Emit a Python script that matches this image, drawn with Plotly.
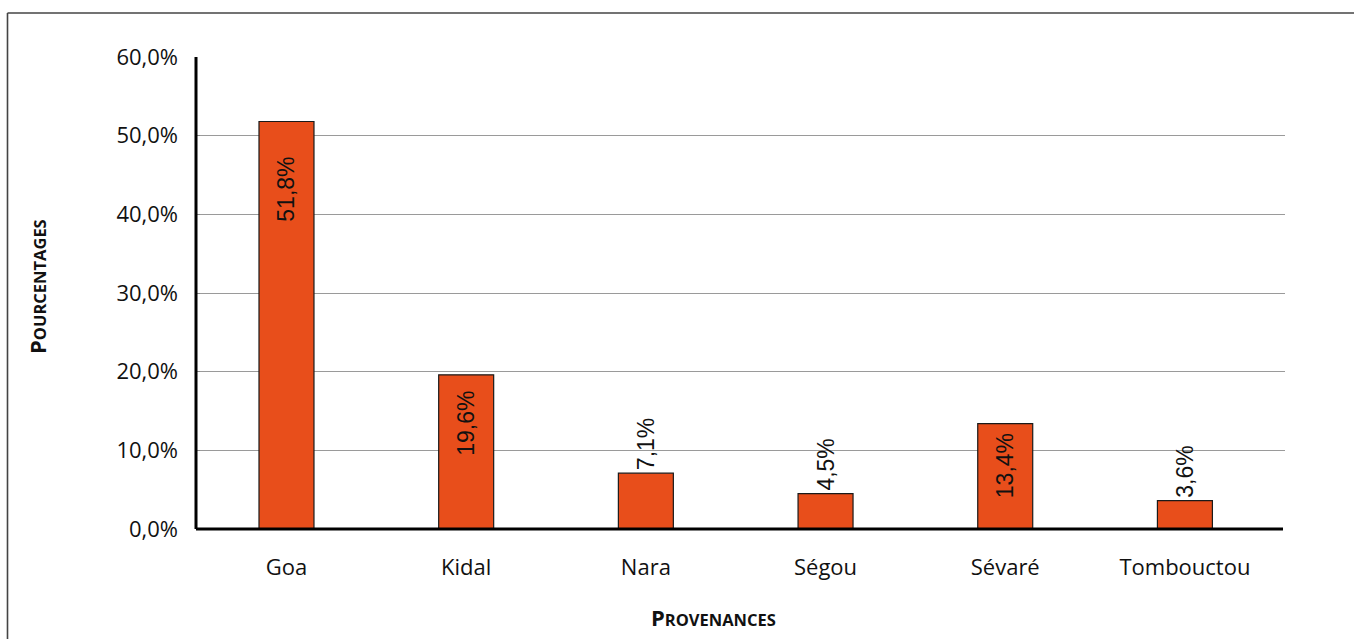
import plotly.graph_objects as go

categories = ["Goa", "Kidal", "Nara", "Ségou", "Sévaré", "Tombouctou"]
values = [51.8, 19.6, 7.1, 4.5, 13.4, 3.6]
value_labels = ["51,8%", "19,6%", "7,1%", "4,5%", "13,4%", "3,6%"]
y_ticks = [0, 10, 20, 30, 40, 50, 60]
y_tick_labels = ["0,0%", "10,0%", "20,0%", "30,0%", "40,0%", "50,0%", "60,0%"]

# label styling (placement of value labels)
text_positions = ["inside", "inside", "outside", "outside", "inside", "outside"]
inside_pad = {"Goa": 5, "Kidal": 2, "Sévaré": 1}
bar_text = [lab + "\u00a0" * inside_pad.get(c, 0) for c, lab in zip(categories, value_labels)]

W, H = 1354, 639
L, R, T, B = 196, 69, 57, 110
pw, ph = W - L - R, H - T - B

fig = go.Figure()
fig.add_trace(go.Bar(
    x=categories, y=values,
    marker=dict(color="#E84E1B", line=dict(color="#1a1a1a", width=1.2)),
    width=0.306,
    text=bar_text,
    textposition=text_positions,
    textangle=-90,
    insidetextanchor="end",
    textfont=dict(family="Liberation Sans", size=23, color="#111"),
    cliponaxis=False,
))

def px_x(px):
    return (px - L) / pw

def px_y(py):
    return (H - B - py) / ph

fig.update_layout(
    width=W, height=H,
    margin=dict(l=L, r=R, t=T, b=B),
    plot_bgcolor="white", paper_bgcolor="white",
    showlegend=False,
    font=dict(family="Open Sans", color="#111"),
    uniformtext=dict(minsize=8, mode="show"),
    xaxis=dict(
        range=[-0.5036, 5.557],
        showgrid=False, showline=False, zeroline=False,
        ticks="", ticklabelstandoff=23,
        tickfont=dict(family="Open Sans", size=22, color="#111"),
    ),
    yaxis=dict(
        range=[0, 60], tickvals=y_ticks, ticktext=y_tick_labels,
        showgrid=True, gridcolor="#9a9a9a", gridwidth=1,
        zeroline=False, showline=False,
        ticks="inside", ticklen=4, tickcolor="#888",
        ticklabelstandoff=17,
        tickfont=dict(family="Open Sans", size=22, color="#111"),
    ),
    shapes=[
        dict(type="line", xref="paper", yref="paper", x0=0, x1=0, y0=0, y1=1,
             line=dict(color="black", width=3)),
        dict(type="line", xref="paper", yref="paper", x0=0, x1=px_x(1283), y0=0, y1=0,
             line=dict(color="black", width=3)),
        dict(type="line", xref="paper", yref="paper", x0=px_x(7.5), x1=px_x(1400),
             y0=px_y(13), y1=px_y(13), line=dict(color="#444", width=1.6)),
        dict(type="line", xref="paper", yref="paper", x0=px_x(7.5), x1=px_x(7.5),
             y0=px_y(13), y1=px_y(700), line=dict(color="#444", width=1.6)),
    ],
    annotations=[
        dict(text="<b><span style='font-size:22px'>P</span>ROVENANCES</b>",
             xref="paper", yref="paper", x=px_x(713), y=px_y(617),
             xanchor="center", yanchor="middle", showarrow=False,
             font=dict(family="Open Sans", size=16.5, color="#111")),
        dict(text="<b><span style='font-size:22px'>P</span>OURCENTAGES</b>",
             xref="paper", yref="paper", x=px_x(37), y=px_y(287),
             xanchor="center", yanchor="middle", showarrow=False, textangle=-90,
             font=dict(family="Open Sans", size=16.5, color="#111")),
    ],
)

fig.write_html("out.html")
